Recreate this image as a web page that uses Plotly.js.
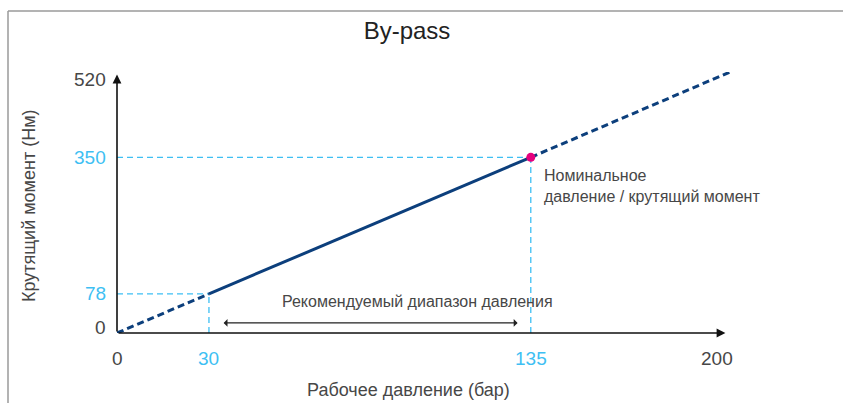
<!DOCTYPE html>
<html>
<head>
<meta charset="utf-8">
<script src="https://cdn.plot.ly/plotly-3.0.1.min.js"></script>
<style>html,body{margin:0;padding:0;background:#fff;}#chart{width:843px;height:403px;}</style>
</head>
<body>
<div id="chart"></div>
<script>
// ---- data ----
const pressure = [0, 30, 135, 200];          // bar
const torque = [0, 78, 350, 520];            // Nm
const xTickVals = [0, 30, 135, 200];
const xTickText = ['0', '30', '135', '200'];
const xTickHighlight = [false, true, true, false];
const yTickVals = [0, 78, 350, 520];
const yTickText = ['0', '78', '350', '520'];
const yTickHighlight = [false, true, true, false];
const rangeStart = 30, rangeEnd = 135;
const nominalPressure = 135, nominalTorque = 350;
const titleText = 'By-pass';
const xTitle = 'Рабочее давление (бар)';
const yTitle = 'Крутящий момент (Нм)';
const rangeLabel = 'Рекомендуемый диапазон давления';
const nominalLabel = 'Номинальное<br>давление / крутящий момент';

// ---- styles ----
const navy = '#0c3f7c';
const sky = '#3ebff3';
const grey = '#474747';
const FONT = 'Liberation Sans, Arial, sans-serif';
const xMax = 200, yMax = 520;
// plot area in pixels (for paper-relative placement of free text)
const PL = 117, PR = 730, PT = 72, PB = 333;
const px = v => (v - PL) / (PR - PL);
const py = v => (PB - v) / (PB - PT);

const traces = [];
// guides (light blue dashed)
const guideIdx = [1, 2];
guideIdx.forEach(i => {
  traces.push({x: [0, pressure[i]], y: [torque[i], torque[i]], mode: 'lines',
    line: {color: sky, width: 1.3, dash: '6px,4px'}, hoverinfo: 'skip', showlegend: false});
  traces.push({x: [pressure[i], pressure[i]], y: [0, torque[i]], mode: 'lines',
    line: {color: sky, width: 1.3, dash: '6px,4px'}, hoverinfo: 'skip', showlegend: false});
});
// main curve: dashed - solid - dashed
traces.push({x: pressure.slice(0, 2), y: torque.slice(0, 2), mode: 'lines',
  line: {color: navy, width: 3, dash: '7px,4px'}, showlegend: false});
traces.push({x: pressure.slice(1, 3), y: torque.slice(1, 3), mode: 'lines',
  line: {color: navy, width: 3}, showlegend: false});
traces.push({x: pressure.slice(2, 4), y: torque.slice(2, 4), mode: 'lines',
  line: {color: navy, width: 3, dash: '7px,4px'}, showlegend: false});
// nominal point
traces.push({x: [nominalPressure], y: [nominalTorque], mode: 'markers',
  marker: {color: '#e5007d', size: 9}, showlegend: false});

const annotations = [];
// axis arrows
annotations.push({x: xMax * 0.9925, y: 0, ax: 0, ay: 0, xref: 'x', yref: 'y', axref: 'x', ayref: 'y',
  showarrow: true, arrowhead: 2, arrowsize: 1.1, arrowwidth: 1.6, arrowcolor: '#111', text: ''});
annotations.push({x: 0, y: yMax * 0.99, ax: 0, ay: 0, xref: 'x', yref: 'y', axref: 'x', ayref: 'y',
  showarrow: true, arrowhead: 2, arrowsize: 1.1, arrowwidth: 1.6, arrowcolor: '#111', text: ''});
// recommended range double arrow
annotations.push({x: rangeEnd - 4.3, y: 20, ax: rangeStart + 4.3, ay: 20, xref: 'x', yref: 'y', axref: 'x', ayref: 'y',
  showarrow: true, arrowhead: 1, arrowside: 'end+start', arrowsize: 1, arrowwidth: 1.3, arrowcolor: '#222', text: ''});
annotations.push({x: (rangeStart + rangeEnd) / 2, y: 20, xref: 'x', yref: 'y', yshift: 21, xshift: 48,
  text: rangeLabel, showarrow: false, font: {family: FONT, size: 16, color: grey}});
// nominal label
annotations.push({x: nominalPressure, y: nominalTorque, xref: 'x', yref: 'y', xanchor: 'left', yanchor: 'top',
  xshift: 11, yshift: -8, align: 'left', text: nominalLabel, showarrow: false,
  font: {family: FONT, size: 16, color: grey}});
// tick labels
xTickVals.forEach((v, i) => {
  annotations.push({x: v, y: 0, xref: 'x', yref: 'y', yanchor: 'middle', yshift: -25,
    xshift: v === xMax ? -13 : 0, text: xTickText[i], showarrow: false,
    font: {family: FONT, size: 19, color: xTickHighlight[i] ? sky : grey}});
});
yTickVals.forEach((v, i) => {
  annotations.push({x: 0, y: v, xref: 'x', yref: 'y', xanchor: 'right', yanchor: 'middle', xshift: -9,
    yshift: v === 0 ? 6 : (v === yMax ? -7 : 0), text: yTickText[i], showarrow: false,
    font: {family: FONT, size: 19, color: yTickHighlight[i] ? sky : grey}});
});
// axis titles
annotations.push({x: px(408), y: py(390), xref: 'paper', yref: 'paper', text: xTitle, showarrow: false,
  font: {family: FONT, size: 18, color: grey}, xanchor: 'center', yanchor: 'middle'});
annotations.push({x: px(29), y: py(206), xref: 'paper', yref: 'paper', text: yTitle, textangle: -90,
  showarrow: false, xanchor: 'center', yanchor: 'middle', font: {family: FONT, size: 18, color: grey}});

const layout = {
  width: 843, height: 403,
  margin: {l: PL, r: 843 - PR, t: PT, b: 403 - PB},
  paper_bgcolor: '#fff', plot_bgcolor: '#fff',
  title: {text: titleText, x: 407 / 843, xanchor: 'center', y: 1 - 31 / 403, yanchor: 'middle',
    font: {family: FONT, size: 24, color: '#222'}},
  xaxis: {range: [0, xMax], showgrid: false, zeroline: false, showline: false, showticklabels: false, ticks: '', fixedrange: true},
  yaxis: {range: [0, yMax], showgrid: false, zeroline: false, showline: false, showticklabels: false, ticks: '', fixedrange: true},
  annotations: annotations,
  shapes: [
    {type: 'line', xref: 'paper', yref: 'paper', x0: px(8), x1: 2, y0: py(11), y1: py(11),
      line: {color: '#9a9a9a', width: 1.5}},
    {type: 'line', xref: 'paper', yref: 'paper', x0: px(8), x1: px(8), y0: -1, y1: py(11),
      line: {color: '#9a9a9a', width: 1.5}}
  ]
};

Plotly.newPlot('chart', traces, layout, {displayModeBar: false, staticPlot: true});
</script>
</body>
</html>
